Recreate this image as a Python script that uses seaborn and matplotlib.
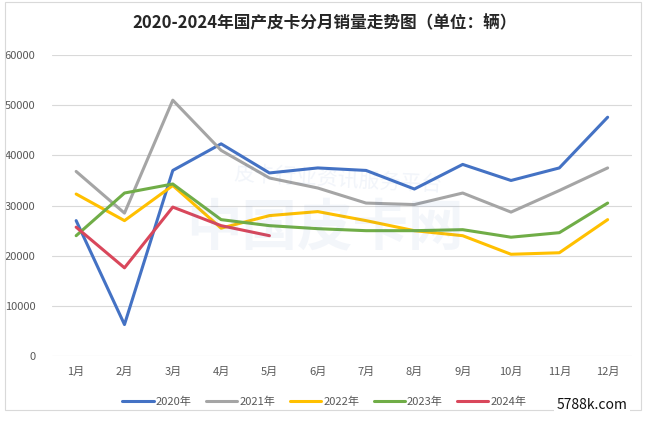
import matplotlib
matplotlib.use("Agg")
import matplotlib.pyplot as plt
import seaborn as sns
import pandas as pd

months = ["1月", "2月", "3月", "4月", "5月", "6月", "7月", "8月", "9月", "10月", "11月", "12月"]
years = ["2020年", "2021年", "2022年", "2023年", "2024年"]
s2020 = [27000, 6300, 37000, 42300, 36500, 37500, 37000, 33300, 38200, 35000, 37500, 47600]
s2021 = [36800, 28500, 51000, 41000, 35500, 33500, 30500, 30200, 32500, 28700, 33000, 37500]
s2022 = [32300, 27000, 34000, 25500, 28000, 28800, 27000, 25000, 24000, 20300, 20600, 27200]
s2023 = [24000, 32500, 34300, 27200, 26000, 25400, 25000, 25000, 25200, 23700, 24600, 30500]
s2024 = [25700, 17600, 29700, 26000, 24000]
colors = ["#4472C4", "#A5A5A5", "#FFC000", "#70AD47", "#D9475B"]

rows = []
for y, s in zip(years, [s2020, s2021, s2022, s2023, s2024]):
    for m, v in zip(months, s):
        rows.append({"月份": m, "销量": v, "年份": y})
df = pd.DataFrame(rows)
df["x"] = df["月份"].map({m: i for i, m in enumerate(months)})

sns.set_theme(style="white")
plt.rcParams['font.family'] = ['Noto Sans CJK SC', 'DejaVu Sans']

fig = plt.figure(figsize=(6.5, 4.23), dpi=100)
ax = fig.add_axes([0.08, 0.158, 0.892, 0.712])

# watermark
fig.text(0.5, 0.46, "中国皮卡网", ha="center", va="center", fontsize=40, fontweight="bold",
         color="#3D6CB8", alpha=0.06, zorder=0)
fig.text(0.52, 0.575, "皮卡行业资讯服务平台", ha="center", va="center", fontsize=15, style="italic",
         color="#3D6CB8", alpha=0.07, zorder=0, rotation=-3)

sns.lineplot(data=df, x="x", y="销量", hue="年份", palette=colors, linewidth=2.2,
             ax=ax, legend=True, sort=False)

ax.set_ylim(0, 60000)
ax.set_xlim(-0.5, 11.5)
ax.set_yticks(range(0, 60001, 10000))
ax.set_xticks(range(len(months)))
ax.set_xticklabels(months)
ax.tick_params(axis="both", labelsize=8, colors="#595959", length=0)
ax.tick_params(axis="x", pad=8)
ax.tick_params(axis="y", pad=12)
ax.yaxis.grid(True, color="#D9D9D9", linewidth=0.8)
ax.set_axisbelow(True)
for sp in ax.spines.values():
    sp.set_visible(False)
ax.set_xlabel("")
ax.set_ylabel("")
ax.patch.set_alpha(0)

handles, labels = ax.get_legend_handles_labels()
ax.legend(handles, labels, loc="upper center", bbox_to_anchor=(0.47, -0.1), ncol=5,
          frameon=False, fontsize=8, handlelength=2.8, handletextpad=0.2, columnspacing=1.3,
          labelcolor="#595959")

fig.suptitle("2020-2024年国产皮卡分月销量走势图（单位：辆）", x=0.5, y=0.965, fontsize=12,
             fontweight="bold", color="#262626")

# border
border = plt.Rectangle((0.008, 0.03), 0.978, 0.965, transform=fig.transFigure, fill=False,
                       edgecolor="#D9D9D9", linewidth=0.8)
fig.add_artist(border)
fig.text(0.965, 0.025, "5788k.com", ha="right", va="bottom", fontsize=10, color="#111111",
         bbox=dict(facecolor="white", edgecolor="none", pad=2))

fig.savefig("out.png", dpi=100)
